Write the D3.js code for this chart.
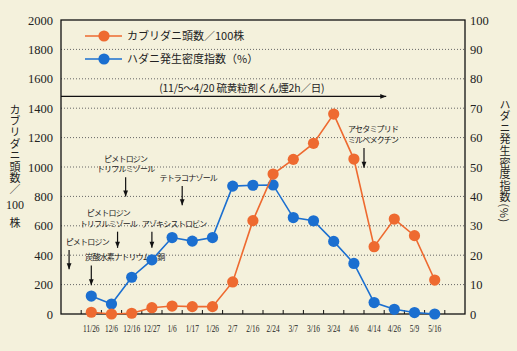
<!DOCTYPE html>
<html>
<head>
<meta charset="utf-8">
<script src="https://cdn.jsdelivr.net/npm/d3@7"></script>
<style>
	body{ margin:0; background:#f4f1dc; }
	svg{ display:block; }
	.num{ font-family:"Liberation Serif","DejaVu Serif",serif; fill:#222; }
	.jp{ font-family:"Noto Sans CJK JP",sans-serif; fill:#222; }
	.vt{ writing-mode:vertical-rl; }
</style>
</head>
<body>
<div id="chart"></div>
<script>
// 調査日
var dates = ["11/26","12/6","12/16","12/27","1/6","1/17","1/26","2/7","2/16","2/24","3/7","3/16","3/24","4/6","4/14","4/26","5/9","5/16"];
// カブリダニ頭数/100株 (左軸)
var kaburi = [12,0,5,43,54,50,50,218,635,952,1052,1161,1360,1054,458,646,533,231];
// ハダニ発生密度指数(%) (右軸)
var hadani = [6.1,3.4,12.5,18.4,26,24.8,26,43.5,43.8,43.9,32.8,31.7,24.7,17.2,3.9,1.6,0.5,0];
var leftTicks = [0,200,400,600,800,1000,1200,1400,1600,1800,2000];
var rightTicks = [0,10,20,30,40,50,60,70,80,90,100];
// 農薬散布: 位置はカテゴリ番号(小数可)と左軸の値
var sprays = [
	{lines:["炭酸水素ナトリウム・銅"], at:0, from:330, to:195, tx:-0.3, anchor:"start"},
	{lines:["ピメトロジン"], at:-1.1, from:435, to:305, tx:-0.2},
	{lines:["ピメトロジン","トリフルミゾール"], at:1.3, from:560, to:450, tx:0.85},
	{lines:["アゾキシストロビン"], at:3, from:560, to:450, tx:4.1},
	{lines:["ピメトロジン","トリフルミゾール"], at:1.7, from:930, to:800, tx:1.7},
	{lines:["テトラコナゾール"], at:4.5, from:870, to:740, tx:4.8},
	{lines:["アセタミプリド","ミルベメクチン"], at:13.5, from:1130, to:995, tx:13.95}
];
var sulfur = {text:"(11/5〜4/20 硫黄粒剤くん煙2h／日)", end:14.6, y:1480};

var width = 517, height = 351,
	margin = {top:20, right:52, bottom:37, left:61},
	w = width - margin.left - margin.right,
	h = height - margin.top - margin.bottom;

var svg = d3.select("#chart").append("svg").attr("width", width).attr("height", height);
svg.append("defs").append("marker").attr("id", "arr").attr("viewBox", "0 -5 10 10")
	.attr("refX", 10).attr("markerWidth", 7).attr("markerHeight", 6)
	.attr("markerUnits", "userSpaceOnUse").attr("orient", "auto")
	.append("path").attr("d", "M0,-4L10,0L0,4Z").attr("fill", "#111");

var g = svg.append("g").attr("transform", "translate(" + margin.left + "," + margin.top + ")");

var xb = d3.scaleBand().domain(dates).range([0, w]).paddingInner(0).paddingOuter(1);
var xc = function(d){ return xb(d) + xb.bandwidth() / 2; };
var xi = function(i){ return xb(dates[0]) + xb.bandwidth() * (i + 0.5); };
var yl = d3.scaleLinear().domain([0, 2000]).range([h, 0]);
var yr = d3.scaleLinear().domain([0, 100]).range([h, 0]);

// 点線グリッド
g.append("g").selectAll("line").data(leftTicks.slice(1, -1)).enter().append("line")
	.attr("x1", 0).attr("x2", w).attr("y1", yl).attr("y2", yl)
	.attr("stroke", "#666").attr("stroke-width", 1).attr("stroke-dasharray", "1,2");

// 枠
g.append("rect").attr("width", w).attr("height", h).attr("fill", "none")
	.attr("stroke", "#111").attr("stroke-width", 1.3);

// 下軸の目盛り
var edges = dates.map(function(d){ return xb(d); }).concat([xb(dates[dates.length - 1]) + xb.bandwidth()]);
g.append("g").selectAll("line").data(edges).enter().append("line")
	.attr("x1", function(d){ return d; }).attr("x2", function(d){ return d; })
	.attr("y1", h).attr("y2", h - 4).attr("stroke", "#111").attr("stroke-width", 1);
g.append("g").selectAll("text").data(dates).enter().append("text").attr("class", "num")
	.attr("transform", function(d){ return "translate(" + xc(d) + "," + (h + 18) + ") scale(0.7,1)"; })
	.attr("text-anchor", "middle").attr("font-size", 10.5).text(function(d){ return d; });

// 左右の数値
g.append("g").selectAll("text").data(leftTicks).enter().append("text").attr("class", "num")
	.attr("x", -8).attr("y", function(d){ return yl(d) + 4.5; }).attr("text-anchor", "end")
	.attr("font-size", 12.5).text(function(d){ return d; });
g.append("g").selectAll("text").data(rightTicks).enter().append("text").attr("class", "num")
	.attr("x", w + 5).attr("y", function(d){ return yr(d) + 4.5; }).attr("text-anchor", "start")
	.attr("font-size", 12.5).text(function(d){ return d; });

// 縦書きの軸タイトル
var lt = svg.append("g");
lt.append("text").attr("class", "jp vt").attr("x", 15).attr("y", 104).attr("font-size", 11)
	.attr("letter-spacing", 0.4).text("カブリダニ頭数／");
lt.append("text").attr("class", "num").attr("x", 15).attr("y", 209).attr("font-size", 12)
	.attr("text-anchor", "middle").text("100");
lt.append("text").attr("class", "jp").attr("x", 15).attr("y", 226.5).attr("font-size", 11)
	.attr("text-anchor", "middle").text("株");
svg.append("text").attr("class", "jp vt").attr("x", 505).attr("y", 99).attr("font-size", 11)
	.attr("letter-spacing", 0.6).text("ハダニ発生密度指数(%)");

// 硫黄くん煙の期間
g.append("line").attr("x1", 0).attr("x2", xi(sulfur.end)).attr("y1", yl(sulfur.y)).attr("y2", yl(sulfur.y))
	.attr("stroke", "#111").attr("stroke-width", 1.2).attr("marker-end", "url(#arr)");
g.append("text").attr("class", "jp").attr("x", (xi(sulfur.end) + xi(0)) / 2 + 3).attr("y", yl(sulfur.y) - 4)
	.attr("text-anchor", "middle").attr("font-size", 10.5).attr("letter-spacing", -0.2).text(sulfur.text);

// 散布の注記
var sp = g.append("g");
sprays.forEach(function(s){
	sp.append("line").attr("x1", xi(s.at)).attr("x2", xi(s.at))
		.attr("y1", yl(s.from)).attr("y2", yl(s.to))
		.attr("stroke", "#111").attr("stroke-width", 1.2).attr("marker-end", "url(#arr)");
	var n = s.lines.length;
	s.lines.forEach(function(l, k){
		sp.append("text").attr("class", "jp").attr("font-size", 8).attr("letter-spacing", -0.8)
			.attr("x", xi(s.tx)).attr("y", yl(s.from) - 5 - (n - 1 - k) * 10.5)
			.attr("text-anchor", s.anchor || "middle").text(l);
	});
});

// 折れ線
var blue = "#1b6fd0", orange = "#ee6a30";
function series(vals, y, col){
	var s = g.append("g");
	s.append("path").datum(vals).attr("fill", "none").attr("stroke", col).attr("stroke-width", 1.6)
		.attr("d", d3.line().x(function(d, i){ return xc(dates[i]); }).y(y));
	s.selectAll("circle").data(vals).enter().append("circle")
		.attr("cx", function(d, i){ return xc(dates[i]); }).attr("cy", y)
		.attr("r", 5.6).attr("fill", col);
}
series(hadani, yr, blue);
series(kaburi, yl, orange);

// 凡例
var lg = svg.append("g");
[["カブリダニ頭数／100株", orange, 36], ["ハダニ発生密度指数（%）", blue, 59]].forEach(function(d){
	lg.append("line").attr("x1", 85).attr("x2", 122).attr("y1", d[2]).attr("y2", d[2])
		.attr("stroke", d[1]).attr("stroke-width", 1.6);
	lg.append("circle").attr("cx", 104).attr("cy", d[2]).attr("r", 5.6).attr("fill", d[1]);
	lg.append("text").attr("class", "jp").attr("x", 127).attr("y", d[2] + 4).attr("font-size", 11)
		.text(d[0]);
});
</script>
</body>
</html>
